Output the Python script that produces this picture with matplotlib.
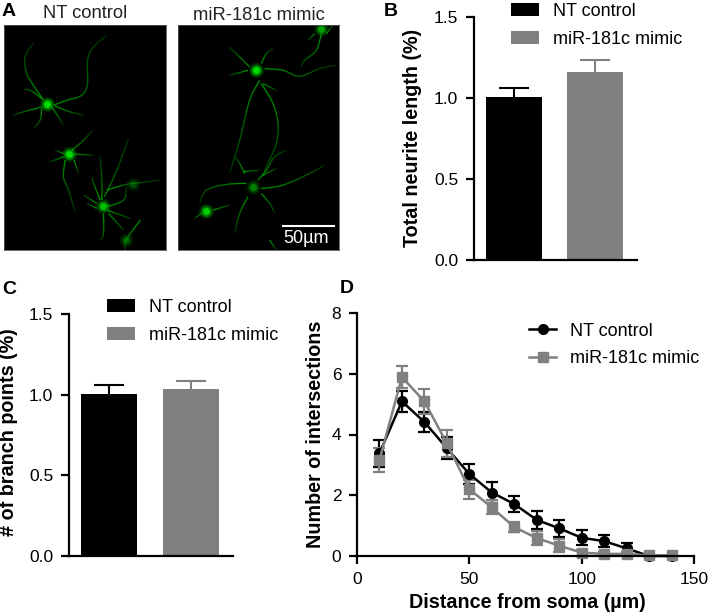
import matplotlib
matplotlib.use("Agg")
import numpy as np
import matplotlib.pyplot as plt

plt.rcParams['font.family'] = ['Liberation Sans', 'DejaVu Sans']

W, H = 708, 613
BLACK = '#000000'
GREY = '#808080'

names = ["NT control", "miR-181c mimic"]

neurite_len = [1.006, 1.16]
neurite_err = [0.052, 0.073]
branch_pts = [1.006, 1.035]
branch_err = [0.054, 0.052]

dist = [10, 20, 30, 40, 50, 60, 70, 80, 90, 100, 110, 120, 130, 140]
nt_mean = [3.38, 5.09, 4.41, 3.55, 2.70, 2.09, 1.71, 1.19, 0.91, 0.60, 0.49, 0.25, 0.0, 0.0]
nt_err = [0.44, 0.35, 0.32, 0.36, 0.32, 0.33, 0.27, 0.30, 0.27, 0.25, 0.20, 0.17, 0.0, 0.0]
mimic_mean = [3.16, 5.89, 5.09, 3.71, 2.20, 1.60, 0.95, 0.59, 0.34, 0.11, 0.07, 0.07, 0.02, 0.02]
mimic_err = [0.41, 0.35, 0.42, 0.44, 0.31, 0.23, 0.16, 0.23, 0.22, 0.10, 0.07, 0.07, 0.02, 0.02]

# micrograph traces (coords of a 3x crop)
left_somas = [(140, 310, 1.0), (207, 463, 1.0), (307, 618, 0.8), (378, 720, 0.3), (397, 552, 0.25)]
left_traces = [
    [(160, 315), (200, 300), (245, 285), (262, 250), (262, 180), (280, 140), (320, 105)],
    [(130, 300), (100, 255), (80, 220), (75, 170), (100, 130)],
    [(125, 295), (90, 270), (70, 268)],
    [(125, 320), (70, 335), (40, 345)],
    [(125, 325), (120, 360), (100, 385)],
    [(155, 320), (175, 350), (190, 375)],
    [(165, 318), (210, 335), (250, 345)],
    [(215, 450), (245, 425), (278, 390)],
    [(195, 480), (190, 530), (205, 570), (225, 635)],
    [(190, 460), (165, 450)],
    [(190, 470), (150, 485)],
    [(222, 480), (235, 520)],
    [(225, 462), (280, 465)],
    [(312, 590), (325, 565), (350, 510), (385, 415)],
    [(320, 570), (370, 555), (400, 550), (480, 540)],
    [(305, 600), (305, 540), (300, 470)],
    [(300, 600), (280, 550), (275, 530)],
    [(290, 610), (250, 585)],
    [(290, 625), (260, 610)],
    [(320, 630), (390, 655)],
    [(318, 620), (370, 600), (378, 560)],
    [(310, 640), (310, 700), (300, 720)],
    [(325, 640), (370, 690)],
    [(420, 660), (378, 720), (375, 750)],
]
right_somas = [(770, 210, 1.0), (760, 560, 0.45), (620, 632, 0.9), (965, 85, 0.6)]
right_traces = [
    [(750, 200), (715, 165), (688, 140)],
    [(745, 210), (690, 225)],
    [(785, 190), (800, 160), (820, 145)],
    [(795, 205), (850, 210), (900, 228), (960, 205), (1010, 195)],
    [(780, 240), (750, 300), (720, 420), (690, 520)],
    [(785, 250), (820, 310), (835, 370), (830, 430), (800, 500), (790, 530)],
    [(790, 250), (830, 270)],
    [(740, 550), (680, 553), (620, 570), (600, 610)],
    [(735, 520), (720, 490), (705, 470)],
    [(775, 540), (800, 510), (825, 470), (860, 450)],
    [(790, 525), (830, 505)],
    [(785, 565), (850, 555), (930, 520), (975, 495)],
    [(785, 580), (810, 610), (825, 640)],
    [(745, 590), (720, 640), (705, 700)],
    [(730, 515), (780, 510)],
    [(640, 630), (690, 615)],
    [(605, 640), (585, 655)],
    [(980, 100), (1000, 75)],
    [(965, 100), (950, 150), (915, 180), (905, 200)],
    [(945, 100), (925, 120)],
    [(810, 720), (830, 750)],
]


def box(x0, y0, x1, y1):
    # axes from pixel corners, y counted from the top
    return fig.add_axes([x0 / W, 1 - y1 / H, (x1 - x0) / W, (y1 - y0) / H])


def smooth(trace, n=12):
    # catmull-rom through the read points so neurites are not kinked
    p = np.array([trace[0]] + trace + [trace[-1]], dtype=float)
    out = []
    for i in range(1, len(p) - 2):
        for t in np.linspace(0, 1, n, endpoint=False):
            out.append(0.5 * (2 * p[i] + (p[i + 1] - p[i - 1]) * t
                              + (2 * p[i - 1] - 5 * p[i] + 4 * p[i + 1] - p[i + 2]) * t ** 2
                              + (3 * p[i] - p[i - 1] - 3 * p[i + 1] + p[i + 2]) * t ** 3))
    out.append(p[-2])
    return np.array(out)


def draw_cells(ax, traces, somas, xlim):
    ax.set_facecolor('black')
    for t in traces:
        pts = smooth(t)
        n = len(pts) - 1
        # fades towards the tip
        for i in range(n):
            fade = 1 - 0.75 * i / n
            seg = pts[i:i + 2]
            ax.plot(seg[:, 0], seg[:, 1], color='#00a000', lw=1.8, alpha=0.18 * fade, solid_capstyle='butt')
            ax.plot(seg[:, 0], seg[:, 1], color='#00c000', lw=0.7, alpha=0.9 * fade, solid_capstyle='butt')
    for x, y, k in somas:
        ax.scatter(x, y, s=120, color='#00a000', alpha=0.25 * k, lw=0)
        ax.scatter(x, y, s=65, color='#00b000', alpha=0.6 * k, lw=0)
        ax.scatter(x, y, s=25, color='#00e800', alpha=0.9 * k, lw=0)
    ax.set_xlim(*xlim)
    ax.set_ylim(750, 74)
    ax.set_xticks([])
    ax.set_yticks([])
    for s in ax.spines.values():
        s.set_color('#555555')
        s.set_linewidth(0.6)


def style_axes(ax):
    ax.spines['top'].set_visible(False)
    ax.spines['right'].set_visible(False)
    ax.spines['left'].set_linewidth(1.6)
    ax.spines['bottom'].set_linewidth(1.6)
    ax.tick_params(width=1.6, length=5.8, labelsize=12.5, pad=5.5)


def bar_panel(ax, values, errs, ylabel):
    for x, v, e, col, name in zip([0, 81], values, errs, [BLACK, GREY], names):
        ax.bar(x, v, width=56, color=col, label=name)
        ax.vlines(x, v, v + e, color=col, lw=1.5)
        ax.hlines(v + e, x - 15, x + 15, color=col, lw=1.5)
    ax.set_xlim(-40, 123)
    ax.set_ylim(0, 1.5)
    ax.set_yticks([0, 0.5, 1.0, 1.5])
    ax.set_yticklabels(['0.0', '0.5', '1.0', '1.5'])
    ax.set_xticks([])
    style_axes(ax)
    ax.set_ylabel(ylabel, fontsize=14.2, fontweight='bold')


fig = plt.figure(figsize=(W / 100, H / 100), dpi=100)

# A
a1 = box(4, 25, 166, 250)
draw_cells(a1, left_traces, left_somas, (12, 497))
a2 = box(178, 25, 339, 250)
draw_cells(a2, right_traces, right_somas, (535, 1018))
a2.plot([850, 1002], [677, 677], color='white', lw=1.5)
a2.text(920, 716, "50µm", color='white', fontsize=13, ha='center', va='center')
fig.text(85 / W, 1 - 13 / H, names[0], fontsize=13.2, ha='center', va='center', color='#222222')
fig.text(259 / W, 1 - 15 / H, names[1], fontsize=13.2, ha='center', va='center', color='#222222')

legend_kw = dict(loc='center left', frameon=False, fontsize=13, handlelength=1.55, handleheight=0.72,
                 labelspacing=0.6, handletextpad=0.75, borderpad=0, borderaxespad=0)

# B
b = box(474, 17, 637, 259.5)
bar_panel(b, neurite_len, neurite_err, "Total neurite length (%)")
b.yaxis.set_label_coords((422 - 474) / 163, 0.5)
fig.legend(*b.get_legend_handles_labels(), bbox_to_anchor=(511 / W, 1 - 25.5 / H), **legend_kw)

# C
c = box(69, 314, 233, 556)
bar_panel(c, branch_pts, branch_err, "# of branch points (%)")
c.yaxis.set_label_coords((18 - 69) / 164, 0.51)
fig.legend(*c.get_legend_handles_labels(), bbox_to_anchor=(107 / W, 1 - 321.5 / H), **legend_kw)

# D
d = box(357, 313, 694, 556)
d_nt = d.errorbar(dist, nt_mean, yerr=nt_err, color=BLACK, marker='o', ms=7, lw=1.8,
                  capsize=4.2, capthick=1.6, elinewidth=1.6, clip_on=False)
d_mi = d.errorbar(dist, mimic_mean, yerr=mimic_err, color=GREY, marker='s', ms=7, lw=1.8,
                  capsize=4.2, capthick=1.6, elinewidth=1.6, clip_on=False)
d.set_xlim(0, 150)
d.set_ylim(0, 8)
d.set_xticks([0, 50, 100, 150])
d.set_yticks([0, 2, 4, 6, 8])
style_axes(d)
d.set_xlabel("Distance from soma (µm)", fontsize=14.2, fontweight='bold')
d.set_ylabel("Number of intersections", fontsize=14.2, fontweight='bold')
d.xaxis.set_label_coords((527 - 357) / 337, -(593 - 556) / 243)
d.yaxis.set_label_coords((325 - 357) / 337, 0.5)
d.legend([d_nt[0], d_mi[0]], names, loc='center left', bbox_to_anchor=(529 / W, 1 - 345 / H),
         bbox_transform=fig.transFigure, frameon=False, fontsize=13, handlelength=1.5,
         labelspacing=0.6, handletextpad=0.78, borderpad=0, borderaxespad=0)

# panel letters
for letter, x, y in [('A', 9, 12), ('B', 391, 11), ('C', 9, 289), ('D', 347, 288)]:
    fig.text(x / W, 1 - y / H, letter, fontsize=14, fontweight='bold', ha='center', va='center')

fig.savefig('out.png', dpi=100)
